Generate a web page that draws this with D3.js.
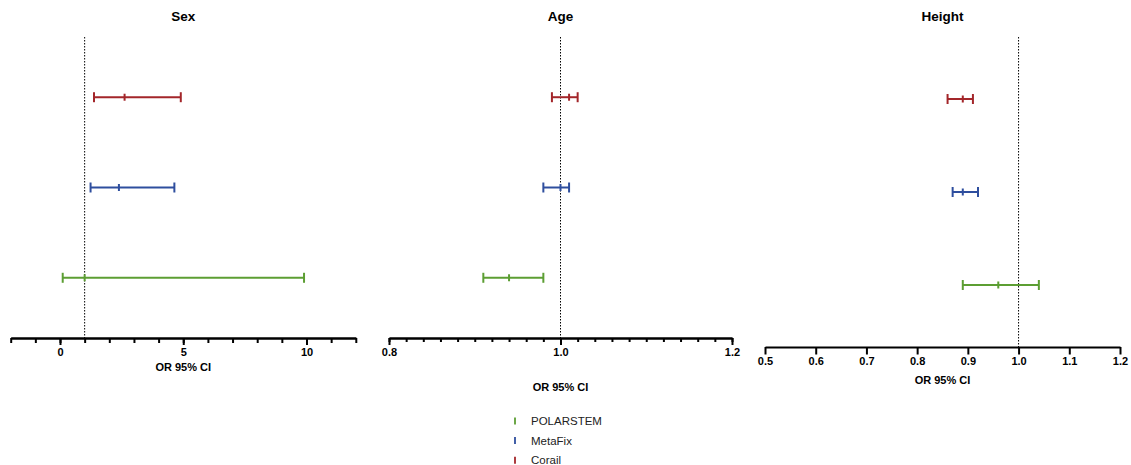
<!DOCTYPE html>
<html lang="en">
<head>
<meta charset="utf-8">
<title>OR 95% CI forest plots</title>
<script src="https://cdn.jsdelivr.net/npm/d3@7"></script>
<style>
  body { margin: 0; background: #fff; }
  svg text { font-family: "Liberation Sans", Arial, sans-serif; }
  .title { font-size: 13.5px; font-weight: bold; text-anchor: middle; }
  .axis-title { font-size: 11px; font-weight: bold; text-anchor: middle; }
  .axis text { font-size: 11px; font-weight: bold; fill: #000; }
  .axis path, .axis line { stroke: #000; stroke-width: 2px; }
  .ref { stroke: #000; stroke-width: 1px; stroke-dasharray: 1.5,1.5; }
  .legend text { font-size: 11.5px; fill: #222; }
</style>
</head>
<body>
<div id="chart"></div>
<script>
// groups, bottom row first
var groups = ["POLARSTEM", "MetaFix", "Corail"],
    colors = ["#5c9e33", "#2e4e9e", "#a3262a"];

// Sex
var sexOR   = [1.00, 2.39, 2.62],
    sexLow  = [0.11, 1.24, 1.38],
    sexHigh = [9.90, 4.64, 4.90],
    sexMinor = d3.range(-2, 13, 1),
    sexMajor = [0, 5, 10];

// Age
var ageOR   = [0.94, 1.00, 1.01],
    ageLow  = [0.91, 0.98, 0.99],
    ageHigh = [0.98, 1.01, 1.02],
    ageMinor = d3.range(0, 21).map(function(i) { return 0.8 + i * 0.02; }),
    ageMajor = [0.8, 1.0, 1.2];

// Height
var heightOR   = [0.96, 0.89, 0.89],
    heightLow  = [0.89, 0.87, 0.86],
    heightHigh = [1.04, 0.92, 0.91],
    heightMajor = [0.5, 0.6, 0.7, 0.8, 0.9, 1.0, 1.1, 1.2];

var width = 1131, height = 465;

var svg = d3.select("#chart").append("svg")
            .attr("width", width)
            .attr("height", height);

var panels = [
  {title: "Sex", or: sexOR, low: sexLow, high: sexHigh, domain: [-2, 12], ref: 1,
   minor: sexMinor, major: sexMajor, fmt: d3.format("d"),
   x0: 10.7, x1: 355.8, top: 37, bottom: 338, minorSize: 5, majorSize: 7, labelY: 371},
  {title: "Age", or: ageOR, low: ageLow, high: ageHigh, domain: [0.8, 1.2], ref: 1,
   minor: ageMinor, major: ageMajor, fmt: d3.format(".1f"),
   x0: 389, x1: 732, top: 37, bottom: 338, minorSize: 4, majorSize: 7, labelY: 391},
  {title: "Height", or: heightOR, low: heightLow, high: heightHigh, domain: [0.5, 1.2], ref: 1,
   minor: null, major: heightMajor, fmt: d3.format(".1f"),
   x0: 765, x1: 1120, top: 37, bottom: 347, minorSize: 0, majorSize: 7.5, labelY: 384}
];

panels.forEach(function(p) {
  var x = d3.scaleLinear().domain(p.domain).range([p.x0, p.x1]);
  var y = d3.scalePoint().domain(groups).range([p.bottom, p.top]).padding(0.667);

  var g = svg.append("g");

  g.append("text")
   .attr("class", "title")
   .attr("x", (p.x0 + p.x1) / 2)
   .attr("y", 21)
   .text(p.title);

  // reference line at OR = 1
  g.append("line")
   .attr("class", "ref")
   .attr("x1", x(p.ref)).attr("x2", x(p.ref))
   .attr("y1", p.top).attr("y2", p.bottom);

  if (p.minor) {
    g.append("g")
     .attr("class", "axis")
     .attr("transform", "translate(0," + p.bottom + ")")
     .call(d3.axisBottom(x).tickValues(p.minor).tickSize(p.minorSize).tickSizeOuter(0).tickFormat(""));
  }
  g.append("g")
   .attr("class", "axis")
   .attr("transform", "translate(0," + p.bottom + ")")
   .call(d3.axisBottom(x).tickValues(p.major).tickSize(p.majorSize).tickSizeOuter(0)
          .tickPadding(10 - p.majorSize).tickFormat(p.fmt));

  g.append("text")
   .attr("class", "axis-title")
   .attr("x", (p.x0 + p.x1) / 2)
   .attr("y", p.labelY)
   .text("OR 95% CI");

  var rows = g.selectAll(".row")
              .data(groups)
              .enter()
              .append("g")
              .attr("class", "row")
              .attr("stroke", function(d, i) { return colors[i]; })
              .attr("stroke-width", 2)
              .attr("transform", function(d) { return "translate(0," + y(d) + ")"; });

  rows.append("line")
      .attr("x1", function(d, i) { return x(p.low[i]); })
      .attr("x2", function(d, i) { return x(p.high[i]); });

  // caps
  [p.low, p.high].forEach(function(arr) {
    rows.append("line")
        .attr("x1", function(d, i) { return x(arr[i]); })
        .attr("x2", function(d, i) { return x(arr[i]); })
        .attr("y1", -5).attr("y2", 5);
  });

  // point estimate
  rows.append("line")
      .attr("x1", function(d, i) { return x(p.or[i]); })
      .attr("x2", function(d, i) { return x(p.or[i]); })
      .attr("y1", -3.5).attr("y2", 3.5);
});

// legend
var legend = svg.append("g")
                .attr("class", "legend")
                .attr("transform", "translate(515,421)");

var items = legend.selectAll(".item")
                  .data(groups)
                  .enter()
                  .append("g")
                  .attr("class", "item")
                  .attr("transform", function(d, i) { return "translate(0," + (i * 19.6) + ")"; });

items.append("line")
     .attr("y1", -3.5).attr("y2", 3.5)
     .attr("stroke", function(d, i) { return colors[i]; })
     .attr("stroke-width", 1.8);

items.append("text")
     .attr("x", 16)
     .attr("y", 4)
     .text(function(d) { return d; });
</script>
</body>
</html>
